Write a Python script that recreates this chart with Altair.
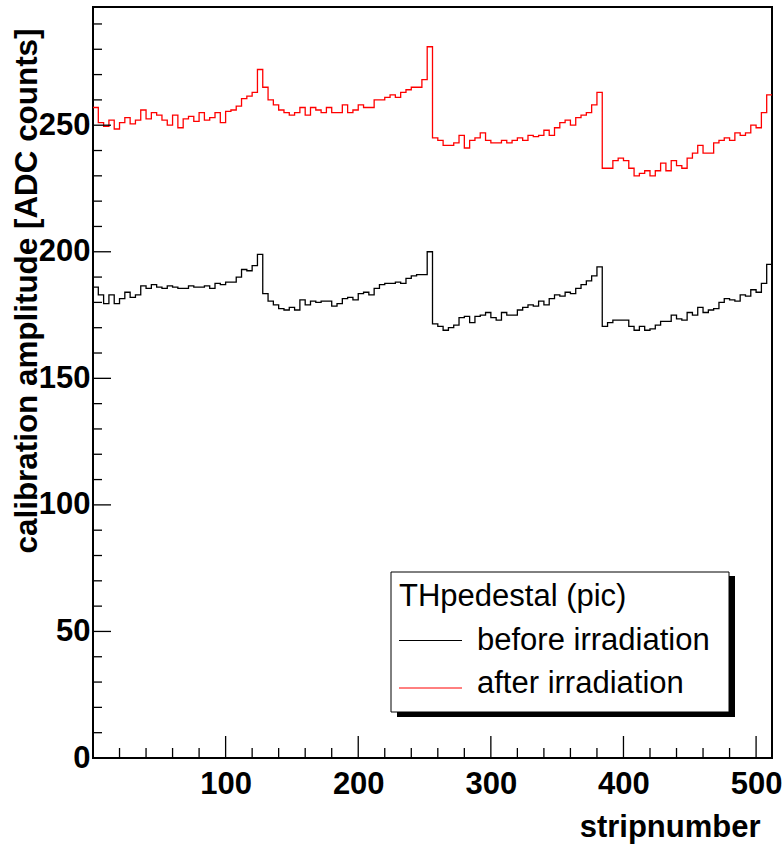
import altair as alt
import pandas as pd

# ---------------- data (4 strips per value) -------------
STRIPS_PER_BIN = 4
N_STRIPS = 512

before_irradiation = [
    186, 183, 179.5, 183, 179.5, 181.5, 184, 182, 183, 186.5, 185.5, 187, 186, 185.5, 186.5, 186,
    185.5, 185.5, 186.5, 186, 186, 186.5, 185.5, 187.5, 187, 188, 188, 190, 193, 192.5, 194.5, 199,
    183.5, 180.5, 179, 177.5, 177, 178, 177, 181, 179, 180.5, 180, 180.5, 180.5, 178.5, 179.5, 181.5,
    182, 181, 183.5, 184, 183, 185.5, 187, 187.5, 187.5, 188, 187.5, 189.5, 190.5, 191, 191, 200,
    171.5, 170.5, 169, 170, 171, 174, 174.5, 172, 174.5, 175, 176, 174, 173, 176, 175, 175,
    177, 178, 179, 178.5, 180.5, 179, 181.5, 183, 182.5, 184, 183.5, 185.5, 187, 188.5, 190.5, 194,
    170.5, 172, 173, 173, 173, 170.5, 169, 170.5, 169, 169.5, 171, 172.5, 172.5, 175, 173.5, 173,
    176, 175, 178, 176, 177, 177.5, 180, 181.5, 181, 180.5, 183, 182.5, 185, 184, 187.5, 195,
]

after_irradiation = [
    257, 251, 249.5, 252, 248.5, 251, 253, 250.5, 252, 256, 252.5, 255, 254, 252, 250, 254,
    249, 252.5, 253.5, 251.5, 255, 252, 253, 255, 251, 255.5, 256, 257.5, 260.5, 261.5, 263, 272,
    265, 260, 258, 256, 255, 254, 255, 257, 254, 257, 256, 255, 257, 255, 255, 258,
    255, 256, 258, 257, 257, 260, 260, 261, 262, 261, 263, 264, 265, 265, 268, 281,
    245, 244, 242, 242, 243, 246, 241, 244, 245, 247, 244, 243, 243, 244, 243, 244,
    245, 244, 246, 245.5, 246, 248, 246, 249, 251, 252, 250, 253, 254, 255, 258, 263,
    233, 233, 236, 237, 236, 233, 230, 231, 232, 230, 232, 235, 232, 236, 234, 233,
    237, 239, 242, 239, 239, 243, 244, 245, 244, 247, 246, 247, 250, 249, 255, 262,
]

series_names = ["before irradiation", "after irradiation"]
series_colors = ["#000000", "#ff0000"]
legend_title = "THpedestal (pic)"
x_title = "stripnumber"
y_title = "calibration amplitude [ADC counts]"
x_major = [100, 200, 300, 400, 500]
x_minor = [20, 40, 60, 80, 120, 140, 160, 180, 220, 240, 260, 280, 320, 340, 360, 380,
           420, 440, 460, 480]
y_major = [0, 50, 100, 150, 200, 250]
y_minor = [10, 20, 30, 40, 60, 70, 80, 90, 110, 120, 130, 140, 160, 170, 180, 190,
           210, 220, 230, 240, 260, 270, 280, 290]
Y_MAX = 296.7

# ---------------- layout ---------------------------------------------------------
W, H = 679, 751
FONT = "Liberation Sans"

rows = []
for name, vals in zip(series_names, [before_irradiation, after_irradiation]):
    for i, v in enumerate(vals):
        rows.append({"series": name, "strip": i * STRIPS_PER_BIN, "value": v})
    rows.append({"series": name, "strip": N_STRIPS, "value": vals[-1]})
df = pd.DataFrame(rows)

xscale = alt.Scale(domain=[0, N_STRIPS], nice=False, zero=False)
yscale = alt.Scale(domain=[0, Y_MAX], nice=False)

xaxis = alt.Axis(
    values=x_major, ticks=False, domain=False, grid=False,
    labelFont=FONT, labelFontWeight="bold", labelFontSize=31, labelColor="black",
    labelPadding=11, labelFlush=False, labelOverlap=False,
    title=x_title, titleFont=FONT, titleFontWeight="bold", titleFontSize=31,
    titleColor="black", titleAlign="right", titleAnchor="end",
    titleX=667, titleY=78, titleBaseline="alphabetic")
yaxis = alt.Axis(
    values=y_major, ticks=False, domain=False, grid=False,
    labelFont=FONT, labelFontWeight="bold", labelFontSize=31, labelColor="black",
    labelPadding=3, labelFlush=False, labelOverlap=False,
    title=y_title, titleFont=FONT, titleFontWeight="bold", titleFontSize=31.4,
    titleColor="black", titleAngle=270, titleAlign="right", titleAnchor="end",
    titleX=-57, titleY=21, titleBaseline="alphabetic")

lines = alt.Chart(df).mark_line(interpolate="step-after", strokeWidth=1.3).encode(
    x=alt.X("strip:Q", scale=xscale, axis=xaxis),
    y=alt.Y("value:Q", scale=yscale, axis=yaxis),
    color=alt.Color("series:N", scale=alt.Scale(domain=series_names, range=series_colors),
                    legend=None),
    order=alt.Order("strip:Q"),
)


def yticks(vals, length):
    return alt.Chart(pd.DataFrame({"value": vals})).mark_rule(color="black", strokeWidth=1.3).encode(
        y=alt.Y("value:Q", scale=yscale, axis=yaxis), x=alt.value(0), x2=alt.value(length))


def xticks(vals, length):
    return alt.Chart(pd.DataFrame({"strip": vals})).mark_rule(color="black", strokeWidth=1.3).encode(
        x=alt.X("strip:Q", scale=xscale, axis=xaxis), y=alt.value(H), y2=alt.value(H - length))


one = pd.DataFrame({"a": [0]})
shadow = alt.Chart(one).mark_rect(color="black").encode(
    x=alt.value(304), x2=alt.value(642), y=alt.value(569), y2=alt.value(710))
box = alt.Chart(one).mark_rect(fill="white", stroke="black", strokeWidth=1).encode(
    x=alt.value(298), x2=alt.value(636), y=alt.value(565), y2=alt.value(705))
leg_title = alt.Chart(one).mark_text(align="left", baseline="alphabetic", font=FONT,
                                     fontSize=31, color="black").encode(
    x=alt.value(306), y=alt.value(598.5), text=alt.value(legend_title))
leg_layers = []
for name, col, ly, ty in zip(series_names, series_colors, [633.5, 681], [643, 686]):
    leg_layers.append(alt.Chart(one).mark_rule(color=col, strokeWidth=1).encode(
        x=alt.value(306), x2=alt.value(369), y=alt.value(ly)))
    leg_layers.append(alt.Chart(one).mark_text(align="left", baseline="alphabetic", font=FONT,
                                               fontSize=31, color="black").encode(
        x=alt.value(384), y=alt.value(ty), text=alt.value(name)))

chart = alt.layer(
    lines,
    yticks(y_major, 18), yticks(y_minor, 9),
    xticks(x_major, 22), xticks(x_minor, 10),
    shadow, box, leg_title, *leg_layers,
).properties(
    width=W, height=H,
    padding={"left": 93, "top": 7, "right": 12, "bottom": 87},
    autosize=alt.AutoSizeParams(type="none"),
).configure(background="white").configure_view(stroke="black", strokeWidth=2)

chart.save("out.html", embed_options={"renderer": "svg", "actions": False})
